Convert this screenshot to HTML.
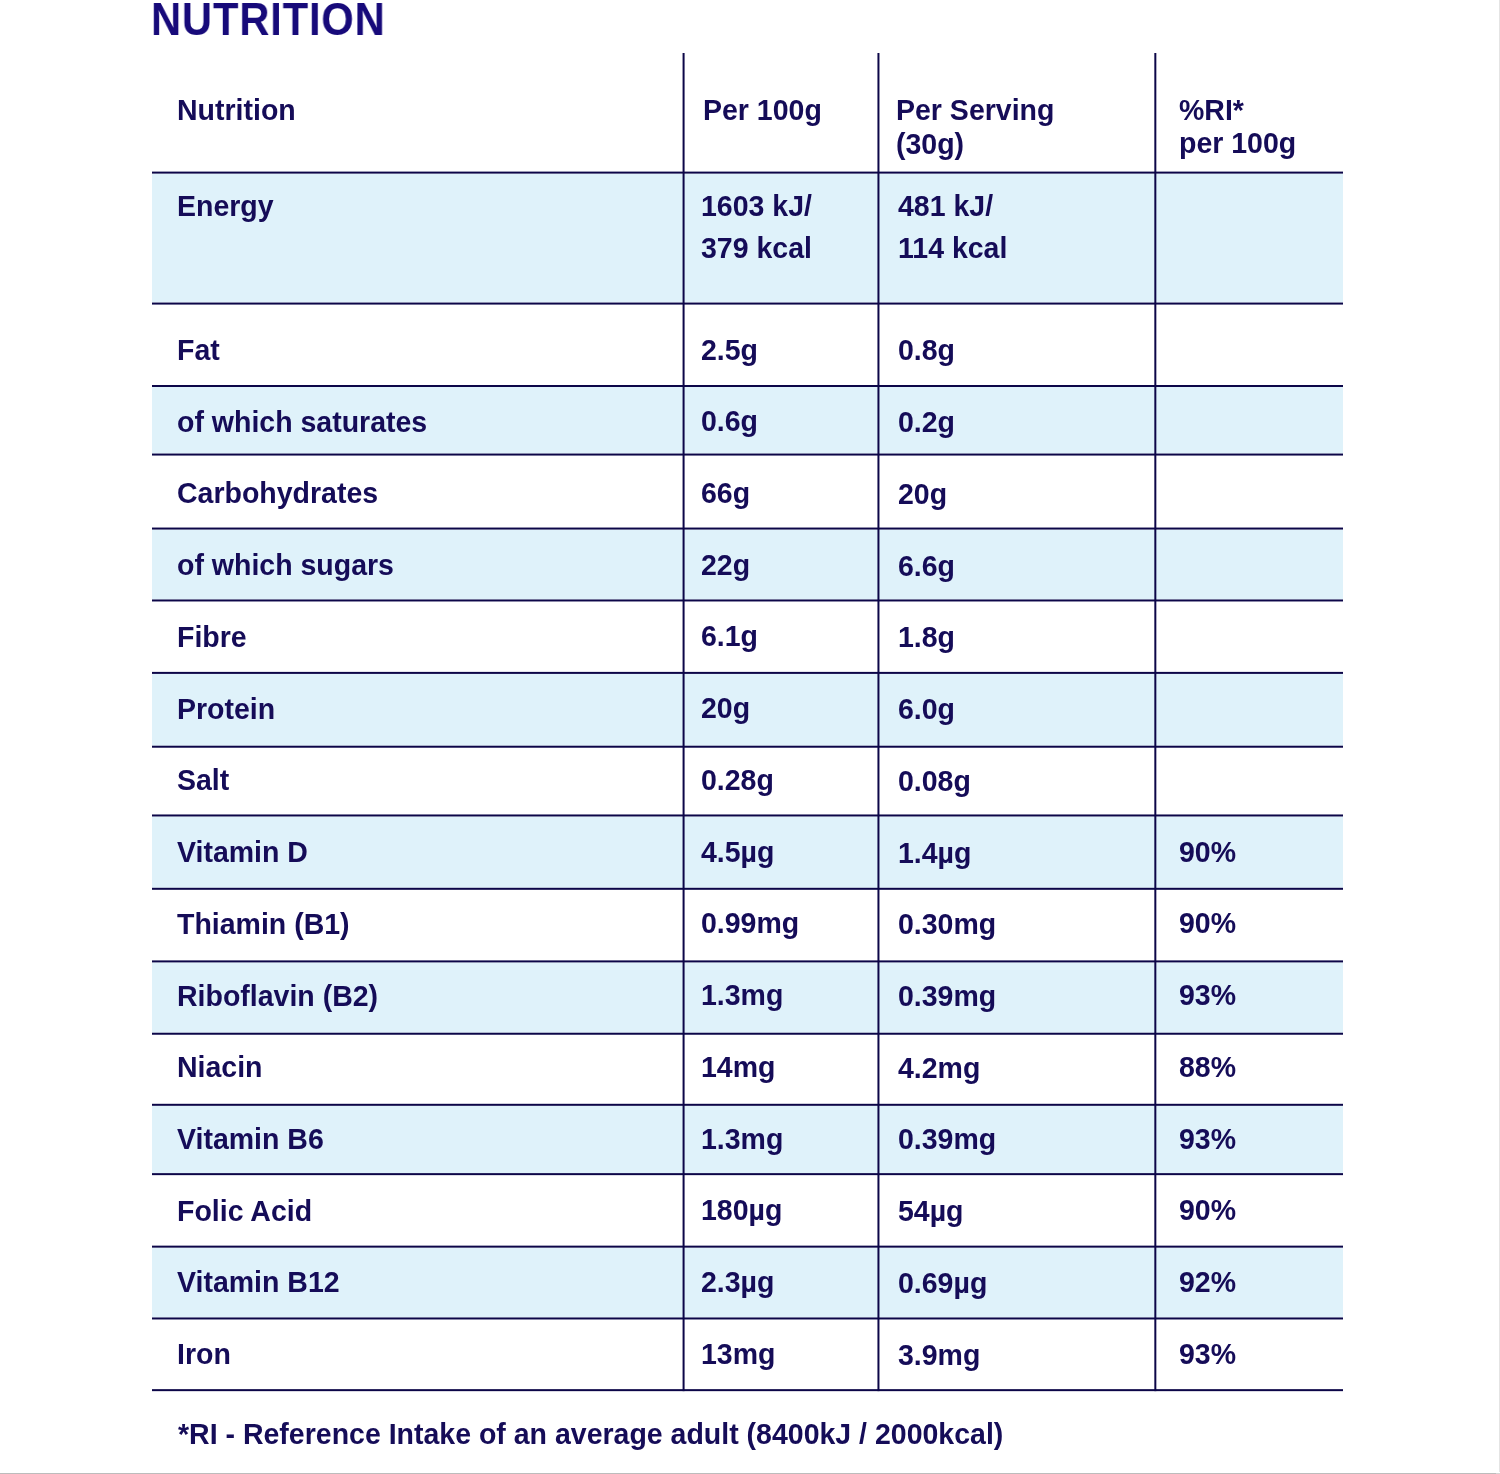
<!DOCTYPE html>
<html><head><meta charset="utf-8"><style>
html,body{margin:0;padding:0;background:#fff;width:1500px;height:1474px;overflow:hidden;position:relative}
.t{will-change:transform;transform:scaleY(1.018);transform-origin:0 14.5px;margin-top:0.45px;position:absolute;white-space:nowrap;font-family:"Liberation Sans",sans-serif;font-weight:bold;font-size:28.5px;line-height:1;color:#150c58}
.t2{line-height:41.3px}
.th{line-height:33.4px}
.th4{line-height:32.4px}
</style></head><body>
<div class="t" style="left:150.6px;top:-4px;font-size:46px;color:#170a7a;letter-spacing:0.875px;transform:scaleX(0.908);transform-origin:0 0;margin-top:0">NUTRITION</div>
<svg style="position:absolute;left:0;top:0" width="1500" height="1474"><rect x="152" y="173.60" width="1191" height="128.97" fill="#dff2fa"/><rect x="152" y="387.00" width="1191" height="66.55" fill="#dff2fa"/><rect x="152" y="529.55" width="1191" height="69.92" fill="#dff2fa"/><rect x="152" y="673.89" width="1191" height="71.83" fill="#dff2fa"/><rect x="152" y="816.47" width="1191" height="71.33" fill="#dff2fa"/><rect x="152" y="962.40" width="1191" height="70.34" fill="#dff2fa"/><rect x="152" y="1105.80" width="1191" height="67.34" fill="#dff2fa"/><rect x="152" y="1247.64" width="1191" height="69.83" fill="#dff2fa"/><rect x="152" y="171.60" width="1191" height="2" fill="#0c0648"/><rect x="152" y="302.57" width="1191" height="2" fill="#0c0648"/><rect x="152" y="385.00" width="1191" height="2" fill="#0c0648"/><rect x="152" y="453.55" width="1191" height="2" fill="#0c0648"/><rect x="152" y="527.55" width="1191" height="2" fill="#0c0648"/><rect x="152" y="599.47" width="1191" height="2" fill="#0c0648"/><rect x="152" y="671.89" width="1191" height="2" fill="#0c0648"/><rect x="152" y="745.72" width="1191" height="2" fill="#0c0648"/><rect x="152" y="814.47" width="1191" height="2" fill="#0c0648"/><rect x="152" y="887.80" width="1191" height="2" fill="#0c0648"/><rect x="152" y="960.40" width="1191" height="2" fill="#0c0648"/><rect x="152" y="1032.74" width="1191" height="2" fill="#0c0648"/><rect x="152" y="1103.80" width="1191" height="2" fill="#0c0648"/><rect x="152" y="1173.14" width="1191" height="2" fill="#0c0648"/><rect x="152" y="1245.64" width="1191" height="2" fill="#0c0648"/><rect x="152" y="1317.47" width="1191" height="2" fill="#0c0648"/><rect x="152" y="1389.15" width="1191" height="2" fill="#0c0648"/><rect x="682.58" y="53" width="2" height="1338.15" fill="#0c0648"/><rect x="877.45" y="53" width="2" height="1338.15" fill="#0c0648"/><rect x="1154.33" y="53" width="2" height="1338.15" fill="#0c0648"/></svg>
<div class="t" style="left:176.5px;top:95.5px">Nutrition</div>
<div class="t" style="left:703.2px;top:95.5px">Per 100g</div>
<div class="t th" style="left:896.0px;top:93.8px">Per Serving<br>(30g)</div>
<div class="t th4" style="left:1178.5px;top:93.4px">%RI*<br>per 100g</div>
<div class="t" style="left:176.5px;top:191.5px">Energy</div>
<div class="t t2" style="left:700.5px;top:185.4px">1603 kJ/<br>379 kcal</div>
<div class="t t2" style="left:897.5px;top:185.9px">481 kJ/<br>114 kcal</div>
<div class="t" style="left:176.5px;top:335.5px">Fat</div>
<div class="t" style="left:700.5px;top:335.1px">2.5g</div>
<div class="t" style="left:897.5px;top:336.0px">0.8g</div>
<div class="t" style="left:176.5px;top:407.2px">of which saturates</div>
<div class="t" style="left:700.5px;top:406.8px">0.6g</div>
<div class="t" style="left:897.5px;top:407.7px">0.2g</div>
<div class="t" style="left:176.5px;top:479.0px">Carbohydrates</div>
<div class="t" style="left:700.5px;top:478.6px">66g</div>
<div class="t" style="left:897.5px;top:479.5px">20g</div>
<div class="t" style="left:176.5px;top:550.7px">of which sugars</div>
<div class="t" style="left:700.5px;top:550.3px">22g</div>
<div class="t" style="left:897.5px;top:551.2px">6.6g</div>
<div class="t" style="left:176.5px;top:622.4px">Fibre</div>
<div class="t" style="left:700.5px;top:622.0px">6.1g</div>
<div class="t" style="left:897.5px;top:622.9px">1.8g</div>
<div class="t" style="left:176.5px;top:694.2px">Protein</div>
<div class="t" style="left:700.5px;top:693.8px">20g</div>
<div class="t" style="left:897.5px;top:694.7px">6.0g</div>
<div class="t" style="left:176.5px;top:765.9px">Salt</div>
<div class="t" style="left:700.5px;top:765.5px">0.28g</div>
<div class="t" style="left:897.5px;top:766.4px">0.08g</div>
<div class="t" style="left:176.5px;top:837.6px">Vitamin D</div>
<div class="t" style="left:700.5px;top:837.2px">4.5µg</div>
<div class="t" style="left:897.5px;top:838.1px">1.4µg</div>
<div class="t" style="left:1178.5px;top:837.2px">90%</div>
<div class="t" style="left:176.5px;top:909.3px">Thiamin (B1)</div>
<div class="t" style="left:700.5px;top:908.9px">0.99mg</div>
<div class="t" style="left:897.5px;top:909.8px">0.30mg</div>
<div class="t" style="left:1178.5px;top:908.9px">90%</div>
<div class="t" style="left:176.5px;top:981.1px">Riboflavin (B2)</div>
<div class="t" style="left:700.5px;top:980.7px">1.3mg</div>
<div class="t" style="left:897.5px;top:981.6px">0.39mg</div>
<div class="t" style="left:1178.5px;top:980.7px">93%</div>
<div class="t" style="left:176.5px;top:1052.8px">Niacin</div>
<div class="t" style="left:700.5px;top:1052.4px">14mg</div>
<div class="t" style="left:897.5px;top:1053.3px">4.2mg</div>
<div class="t" style="left:1178.5px;top:1052.4px">88%</div>
<div class="t" style="left:176.5px;top:1124.5px">Vitamin B6</div>
<div class="t" style="left:700.5px;top:1124.1px">1.3mg</div>
<div class="t" style="left:897.5px;top:1125.0px">0.39mg</div>
<div class="t" style="left:1178.5px;top:1124.1px">93%</div>
<div class="t" style="left:176.5px;top:1196.3px">Folic Acid</div>
<div class="t" style="left:700.5px;top:1195.9px">180µg</div>
<div class="t" style="left:897.5px;top:1196.8px">54µg</div>
<div class="t" style="left:1178.5px;top:1195.9px">90%</div>
<div class="t" style="left:176.5px;top:1268.0px">Vitamin B12</div>
<div class="t" style="left:700.5px;top:1267.6px">2.3µg</div>
<div class="t" style="left:897.5px;top:1268.5px">0.69µg</div>
<div class="t" style="left:1178.5px;top:1267.6px">92%</div>
<div class="t" style="left:176.5px;top:1339.7px">Iron</div>
<div class="t" style="left:700.5px;top:1339.3px">13mg</div>
<div class="t" style="left:897.5px;top:1340.2px">3.9mg</div>
<div class="t" style="left:1178.5px;top:1339.3px">93%</div>
<div class="t" style="left:177.5px;top:1419.4px">*RI - Reference Intake of an average adult (8400kJ / 2000kcal)</div>
<div style="position:absolute;left:1499px;top:0;width:1px;height:1472px;background:#e4e4e4"></div>
<div style="position:absolute;left:0;top:1473px;width:1496px;height:1px;background:#bcbcbc"></div><div style="position:absolute;left:1496px;top:1473px;width:4px;height:1px;background:#d4d4d4"></div>
</body></html>
